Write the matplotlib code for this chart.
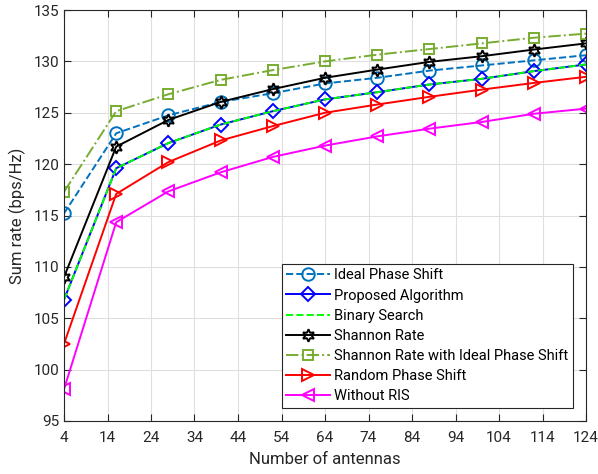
import matplotlib.pyplot as plt

plt.rcParams['font.family'] = ['Roboto', 'DejaVu Sans']

antennas = [4, 16, 28, 40, 52, 64, 76, 88, 100, 112, 124]
ideal_phase = [115.2, 123.0, 124.75, 126.05, 126.9, 127.85, 128.4, 129.1, 129.6, 130.1, 130.6]
proposed = [106.8, 119.6, 122.05, 123.85, 125.15, 126.3, 127.0, 127.75, 128.3, 129.05, 129.7]
binary_search = [106.8, 119.6, 122.05, 123.85, 125.15, 126.3, 127.0, 127.75, 128.3, 129.05, 129.7]
shannon = [109.0, 121.7, 124.3, 126.05, 127.3, 128.4, 129.2, 129.95, 130.5, 131.15, 131.75]
shannon_ideal = [117.3, 125.15, 126.8, 128.2, 129.15, 130.0, 130.65, 131.2, 131.75, 132.3, 132.7]
random_phase = [102.5, 117.1, 120.2, 122.3, 123.7, 125.0, 125.8, 126.55, 127.25, 127.9, 128.5]
without_ris = [98.1, 114.35, 117.35, 119.2, 120.7, 121.8, 122.7, 123.45, 124.1, 124.9, 125.4]

x_ticks = list(range(4, 125, 10))
y_ticks = list(range(95, 136, 5))

fig = plt.figure(figsize=(5.98, 4.74), dpi=100)
ax = fig.add_axes([64 / 598, 1 - 421 / 474, (586 - 64) / 598, (421 - 10) / 474])

ms = 9
ax.plot(antennas, ideal_phase, '--o', color='#0072BD', mfc='none', ms=ms, mew=1.4, lw=1.4,
        label='Ideal Phase Shift')
ax.plot(antennas, proposed, '-D', color='b', mfc='none', ms=7.5, mew=1.4, lw=1.4,
        label='Proposed Algorithm')
ax.plot(antennas, binary_search, '--', color='#00FF00', lw=1.4, label='Binary Search')
ax.plot(antennas, shannon, '-', color='k', marker=(6, 1, 0), mfc='none', ms=ms, mew=1.4, lw=1.4,
        label='Shannon Rate')
ax.plot(antennas, shannon_ideal, '-.s', color='#77AC30', mfc='none', ms=7.5, mew=1.4, lw=1.4,
        label='Shannon Rate with Ideal Phase Shift')
ax.plot(antennas, random_phase, '->', color='r', mfc='none', ms=ms, mew=1.4, lw=1.4,
        label='Random Phase Shift')
ax.plot(antennas, without_ris, '-<', color='#FF00FF', mfc='none', ms=ms, mew=1.4, lw=1.4,
        label='Without RIS')

ax.set_xlim(4, 124)
ax.set_ylim(95, 135)
ax.set_xticks(x_ticks)
ax.set_yticks(y_ticks)
ax.grid(True, color='#DFDFDF', lw=0.8)
ax.set_axisbelow(True)
ax.tick_params(direction='in', top=True, right=True, labelsize=11, colors='#262626', length=5)
ax.tick_params(axis='x', pad=7)
for sp in ax.spines.values():
    sp.set_color('#262626')
    sp.set_linewidth(0.8)

ax.set_xlabel('Number of antennas', fontsize=12, color='#262626', labelpad=5)
ax.set_ylabel('Sum rate (bps/Hz)', fontsize=12, color='#262626', labelpad=5)

leg = ax.legend(loc='lower right', bbox_to_anchor=(0.989, 0.015), fontsize=10.5, fancybox=False,
                edgecolor='#262626', framealpha=1, handlelength=3.0, borderpad=0.3,
                labelspacing=0.42, handletextpad=0.3)
leg.get_frame().set_linewidth(0.8)

fig.savefig('out.png', dpi=100)
